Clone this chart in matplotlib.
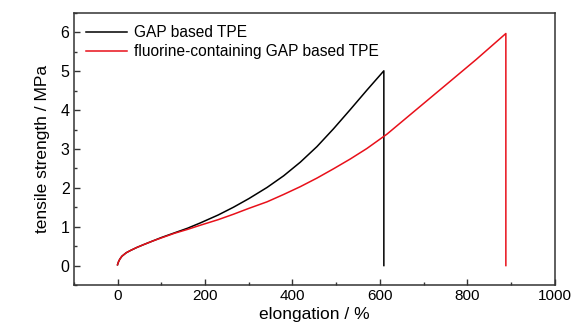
import matplotlib.pyplot as plt
from matplotlib.ticker import MultipleLocator

plt.rcParams['font.family'] = ['Liberation Sans', 'DejaVu Sans']

# GAP based TPE (elongation %, tensile strength MPa)
gap_x = [0, 2, 5, 10, 20, 30, 45, 60, 80, 100, 130, 160, 190, 230, 265, 300,
         342, 380, 418, 456, 494, 532, 570, 609, 609]
gap_y = [0.02, 0.09, 0.16, 0.24, 0.33, 0.39, 0.47, 0.54, 0.63, 0.72, 0.84,
         0.96, 1.10, 1.30, 1.50, 1.72, 2.01, 2.31, 2.66, 3.06, 3.52, 4.01,
         4.51, 5.01, 0.0]

# fluorine-containing GAP based TPE
fgap_x = [0, 2, 5, 10, 20, 30, 45, 60, 80, 100, 130, 160, 190, 230, 265, 300,
          342, 380, 418, 456, 494, 532, 570, 616, 650, 700, 750, 820, 888, 888]
fgap_y = [0.02, 0.09, 0.16, 0.24, 0.33, 0.39, 0.47, 0.54, 0.63, 0.71, 0.83,
          0.93, 1.04, 1.18, 1.32, 1.47, 1.64, 1.83, 2.03, 2.25, 2.49, 2.74,
          3.01, 3.38, 3.70, 4.17, 4.64, 5.30, 5.97, 0.0]

fig = plt.figure(figsize=(5.72, 3.31), dpi=100)
ax = fig.add_axes([0.129, 0.139, 0.841, 0.822])

ax.plot(gap_x, gap_y, color='black', lw=1.1, label='GAP based TPE')
ax.plot(fgap_x, fgap_y, color='#e8101a', lw=1.1,
        label='fluorine-containing GAP based TPE')

ax.set_xlim(-100, 1000)
ax.set_ylim(-0.5, 6.5)
ax.xaxis.set_major_locator(MultipleLocator(200))
ax.xaxis.set_minor_locator(MultipleLocator(100))
ax.yaxis.set_major_locator(MultipleLocator(1))
ax.yaxis.set_minor_locator(MultipleLocator(0.5))
ax.tick_params(which='both', direction='in', labelsize=11.5, width=1.0,
               color='#333333')
ax.tick_params(which='major', length=4.5)
ax.tick_params(which='minor', length=2.5)
ax.tick_params(axis='y', pad=3)
ax.tick_params(axis='x', pad=3, labelsize=11)
for s in ax.spines.values():
    s.set_linewidth(1.1)
    s.set_color('#333333')

ax.set_xlabel('elongation / %', fontsize=12.5, labelpad=3)
ax.set_ylabel('tensile strength / MPa', fontsize=12.5, labelpad=8)

ax.legend(loc='upper left', frameon=False, fontsize=11.2, handlelength=2.6,
          handletextpad=0.45, labelspacing=0.25, borderaxespad=0.4,
          bbox_to_anchor=(0.0, 1.0))

fig.savefig('out.png', dpi=100)
